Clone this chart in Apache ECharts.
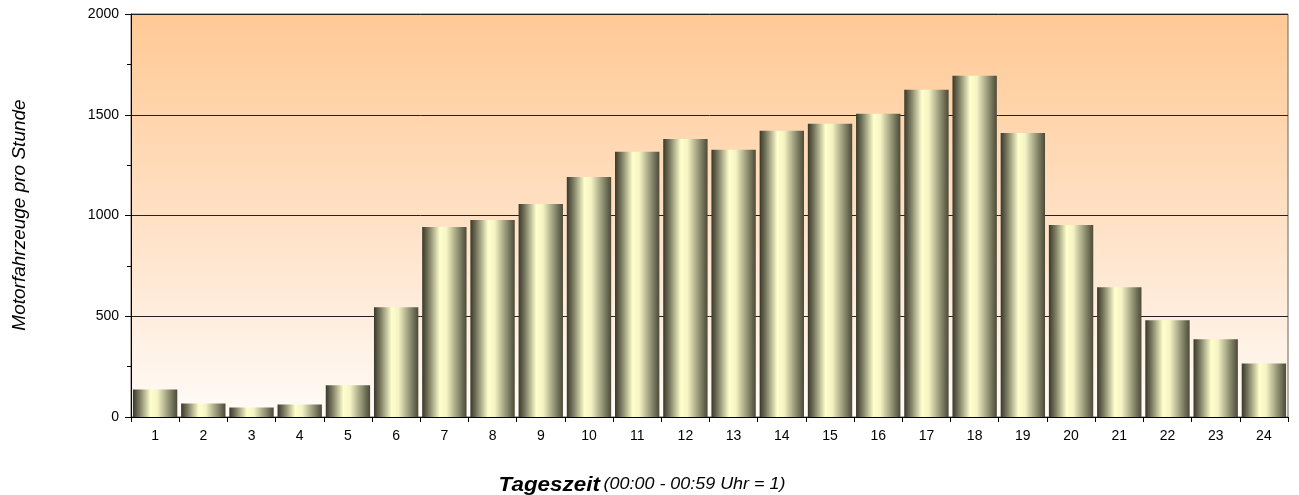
<!DOCTYPE html>
<html><head><meta charset="utf-8">
<script src="https://cdn.jsdelivr.net/npm/echarts@6/dist/echarts.min.js"></script>
<style>html,body{margin:0;padding:0;background:#fff}#c{width:1299px;height:495px}</style>
</head><body><div id="c"></div>
<script>
const categories = ['1','2','3','4','5','6','7','8','9','10','11','12','13','14','15','16','17','18','19','20','21','22','23','24'];
const values = [137,67,47,62,157,545,943,978,1057,1191,1316,1380,1326,1420,1455,1505,1624,1694,1410,953,644,480,386,266];
const yTitle = 'Motorfahrzeuge pro Stunde';
const xTitleMain = 'Tageszeit';
const xTitleSub = '(00:00 - 00:59 Uhr = 1)';

const chart = echarts.init(document.getElementById('c'), null, {renderer:'canvas'});
const barGrad = new echarts.graphic.LinearGradient(0,0,1,0,[
  {offset:0,color:'#38382a'},
  {offset:0.15,color:'#7d7d62'},
  {offset:0.4,color:'#ffffcc'},
  {offset:0.55,color:'#f4f4c4'},
  {offset:0.8,color:'#959576'},
  {offset:1,color:'#4a4a38'}
]);
chart.setOption({
  animation:false,
  textStyle:{fontFamily:'Liberation Sans, Arial, sans-serif'},
  grid:{left:131,right:11,top:14,bottom:78,show:true,borderColor:'#6e6256',borderWidth:1,
    backgroundColor:new echarts.graphic.LinearGradient(0,0,0,1,[
      {offset:0,color:'#ffc994'},{offset:0.5,color:'#ffe0c4'},{offset:1,color:'#fffbf8'}])},
  xAxis:{type:'category',data:categories,
    axisLine:{lineStyle:{color:'#000',width:1}},
    axisTick:{show:true,alignWithLabel:false,length:5,lineStyle:{color:'#000'}},
    axisLabel:{color:'#000',fontSize:14,margin:12}},
  yAxis:{type:'value',min:0,max:2000,interval:500,
    axisLine:{show:true,lineStyle:{color:'#000'}},
    axisTick:{show:true,length:6,lineStyle:{color:'#000'}},
    minorTick:{show:true,splitNumber:2,length:4,lineStyle:{color:'#000'}},
    splitLine:{show:true,lineStyle:{color:'#222',width:1}},
    axisLabel:{color:'#000',fontSize:14,margin:12,formatter:function(v){return String(v);}}},
  graphic:[
    {type:'text',x:20,y:215,rotation:Math.PI/2,
      style:{text:yTitle,font:'italic 19px "Liberation Sans", Arial, sans-serif',fill:'#000',align:'center',verticalAlign:'middle'}},
    {type:'text',x:642,y:485,scaleX:1.12,
      style:{text:'{a|'+xTitleMain+'} {b|'+xTitleSub+'}',align:'center',verticalAlign:'middle',
        rich:{a:{font:'italic bold 20px "Liberation Sans", Arial, sans-serif',fill:'#000'},
              b:{font:'italic 16px "Liberation Sans", Arial, sans-serif',fill:'#000'}}}}
  ],
  series:[{type:'bar',data:values,barCategoryGap:'8%',
    itemStyle:{color:barGrad}}]
});
</script></body></html>
